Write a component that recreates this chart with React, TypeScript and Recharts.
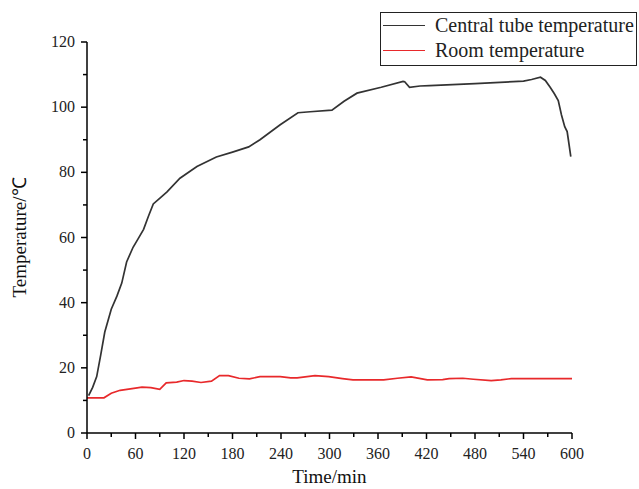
import React from 'react';
import { LineChart, Line, XAxis, YAxis } from 'recharts';

// time (min) / temperature (°C)
const centralTime = [2, 7, 12, 17, 22, 30, 37, 43, 49, 57, 63, 70, 76, 82, 92, 99, 115, 136, 160, 180, 200, 214, 239, 261, 276, 303, 318, 334, 364, 391, 393, 399, 412, 424, 480, 540, 550, 561, 567, 573, 578, 583, 587, 591, 594, 595.5, 598.5];
const centralTemp = [11.5, 14, 17.3, 24, 31, 38, 42, 46, 52.5, 57, 59.5, 62.5, 66.5, 70.3, 72.5, 74, 78.2, 81.8, 84.7, 86.2, 87.8, 90, 94.6, 98.3, 98.6, 99.1, 101.8, 104.3, 106.1, 107.9, 107.8, 106.1, 106.5, 106.6, 107.2, 108, 108.5, 109.2, 108.2, 106.1, 104.2, 102, 97.6, 94, 92.5, 90, 84.8];

const roomTime = [0, 21, 30, 41, 60, 68, 79, 90, 98, 111, 120, 130, 141, 154, 164, 175, 188, 201, 214, 239, 252, 260, 282, 299, 316, 329, 367, 384, 401, 421, 440, 448, 465, 478, 500, 512, 525, 600];
const roomTemp = [10.8, 10.8, 12.2, 13.1, 13.8, 14.1, 13.9, 13.4, 15.4, 15.6, 16.1, 15.9, 15.5, 15.9, 17.6, 17.6, 16.8, 16.6, 17.3, 17.3, 16.9, 16.9, 17.6, 17.3, 16.7, 16.3, 16.3, 16.8, 17.2, 16.3, 16.4, 16.7, 16.8, 16.5, 16.1, 16.3, 16.7, 16.7];

const xTicks = [0, 30, 60, 90, 120, 150, 180, 210, 240, 270, 300, 330, 360, 390, 420, 450, 480, 510, 540, 570, 600];
const yTicks = [0, 10, 20, 30, 40, 50, 60, 70, 80, 90, 100, 110, 120];

const seriesNames = ['Central tube temperature', 'Room temperature'];
const seriesColors = ['#333333', '#e8292b'];

const centralData = centralTime.map((t, i) => ({ t, v: centralTemp[i] }));
const roomData = roomTime.map((t, i) => ({ t, v: roomTemp[i] }));

const FONT = '"Liberation Serif", "Times New Roman", serif';

const YTick = (props: any) => {
  const { x, y, payload } = props;
  const major = payload.value % 20 === 0;
  return (
    <g>
      <line x1={x} x2={x - (major ? 6 : 4)} y1={y} y2={y} stroke="#000" strokeWidth={1.5} />
      {major && (
        <text x={x - 12} y={y + 5} textAnchor="end" fontSize={16} fontFamily={FONT} fill="#222">
          {payload.value}
        </text>
      )}
    </g>
  );
};

const XTick = (props: any) => {
  const { x, y, payload } = props;
  const major = payload.value % 60 === 0;
  return (
    <g>
      <line x1={x} x2={x} y1={y} y2={y + (major ? 6 : 4)} stroke="#000" strokeWidth={1.5} />
      {major && (
        <text x={x} y={y + 26} textAnchor="middle" fontSize={16} fontFamily={FONT} fill="#222">
          {payload.value}
        </text>
      )}
    </g>
  );
};

function LegendBox() {
  return (
    <div
      style={{
        position: 'absolute',
        left: 380,
        top: 12,
        width: 257,
        height: 54,
        border: '1px solid #222',
        background: '#fff',
        boxSizing: 'border-box',
        fontFamily: FONT,
        fontSize: 20,
        color: '#222',
        lineHeight: '25px',
        paddingLeft: 2,
        whiteSpace: 'nowrap',
      }}
    >
      {seriesNames.map((name, i) => (
        <div key={name} style={{ display: 'flex', alignItems: 'center', height: 25 }}>
          <span style={{ display: 'inline-block', width: 42, height: 0, borderTop: `1.5px solid ${seriesColors[i]}`, marginRight: 10 }} />
          <span>{name}</span>
        </div>
      ))}
    </div>
  );
}

export default function App() {
  return (
    <div style={{ position: 'absolute', left: 0, top: 0, width: 639, height: 489, background: '#fff' }}>
      <LineChart width={639} height={489} margin={{ top: 42, right: 67, bottom: 16, left: 21 }}>
        <XAxis
          type="number"
          dataKey="t"
          domain={[0, 600]}
          ticks={xTicks}
          interval={0}
          height={40}
          tickSize={0}
          tickMargin={0}
          tickLine={false}
          tick={<XTick />}
          axisLine={{ stroke: '#000', strokeWidth: 1.5 }}
          label={(p: any) => {
            const vb = p.viewBox || {};
            return (
              <text x={vb.x + vb.width / 2} y={vb.y + 50} textAnchor="middle" fontSize={19} fontFamily={FONT} fill="#111">
                Time/min
              </text>
            );
          }}
        />
        <YAxis
          type="number"
          domain={[0, 120]}
          ticks={yTicks}
          interval={0}
          width={66}
          tickSize={0}
          tickMargin={0}
          tickLine={false}
          tick={<YTick />}
          axisLine={{ stroke: '#000', strokeWidth: 1.5 }}
          label={(p: any) => {
            const vb = p.viewBox || {};
            const cx = vb.x + vb.width - 61;
            const cy = vb.y + vb.height / 2;
            return (
              <text x={cx} y={cy} transform={`rotate(-90 ${cx} ${cy})`} textAnchor="middle" fontSize={19} fontFamily={FONT} fill="#111">
                Temperature/℃
              </text>
            );
          }}
        />
        <Line
          data={centralData}
          dataKey="v"
          name={seriesNames[0]}
          stroke={seriesColors[0]}
          strokeWidth={1.7}
          dot={false}
          type="linear"
          isAnimationActive={false}
        />
        <Line
          data={roomData}
          dataKey="v"
          name={seriesNames[1]}
          stroke={seriesColors[1]}
          strokeWidth={1.7}
          dot={false}
          type="linear"
          isAnimationActive={false}
        />
      </LineChart>
      <LegendBox />
    </div>
  );
}
